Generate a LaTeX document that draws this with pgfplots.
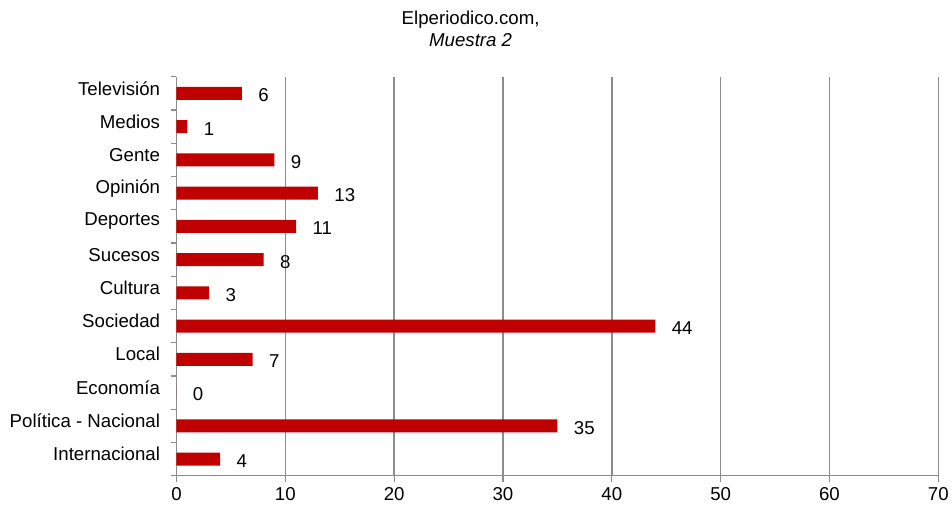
\documentclass[border=0pt]{standalone}
\usepackage{fontspec}
\setmainfont{Liberation Sans}
\usepackage{pgfplots}
\pgfplotsset{compat=1.18}
\usetikzlibrary{calc}
\definecolor{barred}{HTML}{C00000}
\definecolor{gridgray}{HTML}{8C8C8C}
\newcommand\f{\fontsize{18.7}{22.4}\selectfont}
\begin{document}
\begin{tikzpicture}
\begin{axis}[
  name=ax,
  scale only axis,
  width=764pt, height=400pt,
  xbar, bar width=13pt,
  xmin=0, xmax=70,
  ymin=-0.5, ymax=11.5,
  axis x line=bottom, axis y line=left,
  axis line style={gridgray, line width=1.2pt, -},
  xtick={0,10,...,70},
  ytick={-0.5,0.5,...,11.5},
  yticklabels={},
  extra y ticks={0,...,11},
  extra y tick labels={Internacional, Política - Nacional, Economía, Local, Sociedad, Cultura, Sucesos, Deportes, Opinión, Gente, Medios\ , Televisión},
  extra y tick style={major tick length=0pt, tick style={draw=none},
     yticklabel style={yshift=5pt, xshift=-13pt}},
  tick align=outside,
  major tick length=6pt,
  tick style={gridgray, line width=1.2pt},
  xmajorgrids,
  major grid style={gridgray, line width=1.5pt},
  /pgf/number format/assume math mode=true,
  ticklabel style={font=\f},
  xticklabel style={yshift=-2pt},
  nodes near coords,
  nodes near coords style={font=\f, anchor=west, xshift=13pt, yshift=-2pt, text=black},
  clip=false,
]
\addplot[fill=barred, draw=none] coordinates {
  (4,0) (35,1) (0,2) (7,3) (44,4) (3,5) (8,6) (11,7) (13,8) (9,9) (1,10) (6,11)
};
\end{axis}
\node[font=\f, align=center] at ($(ax.north west)+(295pt,48pt)$) {Elperiodico.com,\\\itshape Muestra 2};
\path[use as bounding box] ($(ax.south west)+(-177pt,-30pt)$) rectangle ($(ax.north east)+(11pt,77pt)$);
\end{tikzpicture}
\end{document}
